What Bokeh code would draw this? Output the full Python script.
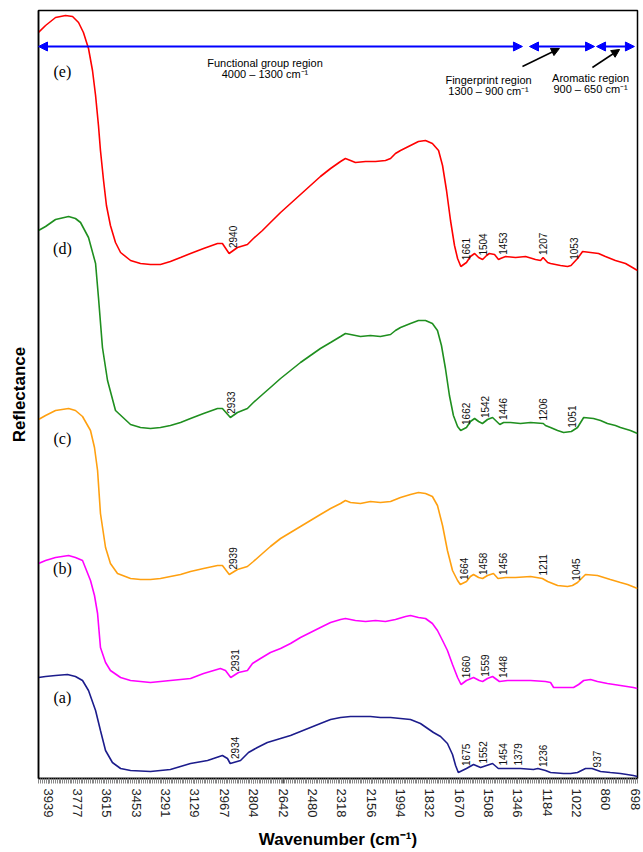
import numpy as np
from bokeh.plotting import figure
from bokeh.models import Range1d, FixedTicker, Arrow, NormalHead
from bokeh.core.properties import value
from bokeh.embed import file_html
from bokeh.resources import INLINE

# Wavenumber tick labels (cm-1)
tick_wavenumbers = [3939, 3777, 3615, 3453, 3291, 3129, 2967, 2804, 2642, 2480,
                    2318, 2156, 1994, 1832, 1670, 1508, 1346, 1184, 1022, 860, 698]

# Spectrum (e) - stacked reflectance (arbitrary units)
e_wn = [3992, 3953, 3898, 3843, 3804, 3771, 3744, 3716, 3694, 3677,
        3661, 3650, 3633, 3617, 3595, 3567, 3539, 3484, 3429, 3374,
        3319, 3264, 3208, 3153, 3081, 3004, 2977, 2940, 2894, 2839,
        2806, 2756, 2712, 2656, 2601, 2546, 2491, 2436, 2380, 2325,
        2298, 2270, 2243, 2187, 2132, 2077, 2049, 2022, 1994, 1939,
        1895, 1856, 1818, 1784, 1762, 1740, 1718, 1696, 1679, 1661,
        1630, 1608, 1585, 1563, 1541, 1519, 1504, 1475, 1453, 1442,
        1414, 1359, 1304, 1249, 1221, 1207, 1182, 1166, 1111, 1072,
        1053, 1017, 989, 945, 901, 863, 808, 752, 714, 686]
e_r = [746, 753, 761, 763, 762, 756, 746, 730, 708, 683,
       653, 628, 598, 573, 553, 536, 526, 518, 515, 514,
       514, 517, 521, 525, 530, 535, 535, 525, 531, 534,
       540, 548, 556, 566, 575, 584, 593, 602, 610, 617,
       620, 618, 616, 617, 617, 618, 620, 625, 628, 633,
       637, 638, 635, 628, 613, 588, 558, 533, 520, 512,
       516, 522, 525, 521, 519, 523, 525, 524, 519, 520,
       522, 521, 522, 519, 518, 521, 516, 515, 513, 512,
       513, 520, 527, 526, 525, 522, 518, 515, 511, 508]

# Spectrum (d)
d_wn = [3992, 3953, 3898, 3826, 3788, 3760, 3716, 3677, 3661, 3639,
        3611, 3567, 3484, 3429, 3374, 3319, 3264, 3208, 3153, 3081,
        3004, 2977, 2933, 2894, 2839, 2806, 2756, 2712, 2656, 2601,
        2546, 2491, 2436, 2380, 2325, 2298, 2270, 2215, 2160, 2105,
        2049, 2022, 1994, 1939, 1895, 1856, 1818, 1790, 1768, 1746,
        1724, 1702, 1679, 1662, 1630, 1608, 1585, 1563, 1542, 1514,
        1486, 1446, 1425, 1387, 1332, 1276, 1206, 1194, 1166, 1127,
        1094, 1051, 1017, 983, 929, 890, 852, 808, 780, 725, 686]
d_r = [548, 552, 559, 562, 560, 556, 541, 515, 481, 431,
       398, 368, 354, 351, 350, 351, 353, 356, 360, 365,
       370, 370, 361, 366, 370, 376, 384, 391, 400, 408,
       416, 423, 430, 436, 442, 445, 444, 442, 443, 442,
       444, 448, 451, 455, 458, 458, 455, 448, 433, 410,
       383, 363, 352, 348, 351, 357, 360, 357, 355, 359,
       361, 354, 356, 356, 355, 356, 355, 353, 351, 348,
       346, 347, 351, 361, 360, 358, 355, 353, 351, 348, 345]

# Spectrum (c)
c_wn = [3992, 3953, 3898, 3826, 3788, 3749, 3705, 3683, 3666, 3650,
        3622, 3595, 3556, 3484, 3429, 3374, 3319, 3264, 3208, 3153,
        3081, 3004, 2977, 2939, 2894, 2839, 2806, 2756, 2712, 2656,
        2601, 2546, 2491, 2436, 2380, 2325, 2298, 2270, 2215, 2160,
        2105, 2049, 1994, 1939, 1895, 1856, 1818, 1790, 1762, 1735,
        1707, 1679, 1664, 1630, 1608, 1591, 1563, 1541, 1514, 1481,
        1456, 1414, 1359, 1276, 1211, 1182, 1127, 1072, 1045, 1017,
        973, 907, 836, 780, 741, 686]
c_r = [359, 363, 368, 370, 368, 362, 348, 331, 308, 265,
       231, 215, 205, 200, 199, 199, 200, 202, 204, 207,
       210, 213, 213, 204, 209, 212, 217, 225, 232, 240,
       246, 252, 258, 264, 270, 275, 278, 276, 275, 277,
       276, 277, 281, 284, 286, 285, 282, 273, 253, 228,
       208, 198, 194, 197, 202, 204, 201, 200, 203, 205,
       200, 201, 201, 202, 200, 197, 193, 192, 193, 196,
       204, 203, 199, 196, 194, 190]

# Spectrum (b)
b_wn = [3992, 3953, 3898, 3826, 3788, 3749, 3705, 3683, 3666, 3650,
        3622, 3595, 3539, 3484, 3429, 3374, 3319, 3264, 3208, 3153,
        3081, 2988, 2960, 2931, 2888, 2839, 2811, 2767, 2712, 2656,
        2601, 2546, 2491, 2436, 2380, 2325, 2298, 2243, 2187, 2132,
        2077, 2022, 1966, 1939, 1895, 1856, 1818, 1790, 1762, 1735,
        1707, 1679, 1660, 1630, 1591, 1559, 1541, 1514, 1486, 1448,
        1403, 1276, 1194, 1166, 1149, 1111, 1039, 1011, 983, 945,
        907, 852, 780, 709, 686]
b_r = [215, 218, 221, 223, 221, 218, 198, 183, 165, 131,
       116, 108, 101, 98, 97, 96, 97, 98, 99, 100,
       105, 110, 108, 101, 106, 108, 115, 120, 126, 130,
       135, 141, 146, 151, 156, 159, 160, 158, 157, 158,
       157, 159, 162, 163, 161, 160, 155, 148, 138, 128,
       114, 101, 94, 98, 101, 98, 97, 100, 102, 97,
       98, 98, 97, 96, 91, 91, 91, 94, 98, 99,
       97, 95, 93, 91, 90]

# Spectrum (a)
a_wn = [3992, 3953, 3898, 3832, 3788, 3749, 3716, 3677, 3650, 3622,
        3584, 3539, 3484, 3374, 3264, 3153, 3059, 2977, 2949, 2934,
        2877, 2833, 2784, 2729, 2656, 2601, 2546, 2491, 2436, 2380,
        2325, 2270, 2215, 2160, 2105, 2049, 1994, 1939, 1884, 1812,
        1773, 1735, 1707, 1690, 1675, 1630, 1591, 1552, 1519, 1486,
        1454, 1414, 1379, 1332, 1260, 1236, 1194, 1166, 1094, 1055,
        1017, 973, 937, 890, 836, 780, 709, 686]
a_r = [101, 102, 103, 104, 102, 98, 88, 68, 48, 28,
       16, 10, 8, 7, 9, 15, 18, 23, 20, 15,
       18, 26, 31, 36, 40, 43, 47, 51, 55, 59,
       61, 62, 62, 62, 61, 61, 60, 59, 55, 46,
       42, 35, 24, 13, 6, 10, 14, 11, 13, 15,
       10, 10, 10, 10, 9, 10, 8, 6, 5, 5,
       6, 10, 10, 7, 6, 5, 3, 2]

# Peak assignments (cm-1) and where along each trace their tags sit
e_peaks = [2940, 1661, 1504, 1453, 1207, 1053]
e_tag_at = [2921, 1635, 1536, 1431, 1205, 1039]
d_peaks = [2933, 1662, 1542, 1446, 1206, 1051]
d_tag_at = [2927, 1635, 1525, 1431, 1210, 1045]
c_peaks = [2939, 1664, 1458, 1456, 1211, 1045]
c_tag_at = [2921, 1646, 1536, 1431, 1210, 1028]
b_peaks = [2931, 1660, 1559, 1448]
b_tag_at = [2905, 1635, 1525, 1431]
a_peaks = [2934, 1675, 1552, 1454, 1379, 1236, 937]
a_tag_at = [2905, 1635, 1536, 1431, 1348, 1205, 907]

# Spectral regions (cm-1)
functional_region = (4000, 1300)
fingerprint_region = (1300, 900)
aromatic_region = (900, 650)

X_LEFT, X_RIGHT = 3992, 686
Y_TOP = 768

p = figure(width=643, height=852,
           x_range=Range1d(X_LEFT, X_RIGHT), y_range=Range1d(0, Y_TOP),
           output_backend="svg", toolbar_location=None,
           min_border_left=38, min_border_right=6,
           min_border_top=10, min_border_bottom=74)

p.background_fill_color = "white"
p.border_fill_color = "white"
p.xgrid.visible = False
p.ygrid.visible = False
p.outline_line_color = "black"
p.outline_line_width = 1.5

SANS = "Liberation Sans"
SERIF = "Liberation Serif"

# x axis
step = 162.05 / 16
minor = list(np.arange(3939 + 5 * step, X_RIGHT, -step))
p.xaxis.ticker = FixedTicker(ticks=tick_wavenumbers, minor_ticks=minor)
p.xaxis.major_label_orientation = "vertical"
p.xaxis.major_label_text_font = SANS
p.xaxis.major_label_text_font_size = "13px"
p.xaxis.major_label_text_color = "#222222"
p.xaxis.major_label_standoff = 5
p.xaxis.axis_line_color = "black"
p.xaxis.axis_line_width = 1.5
p.xaxis.major_tick_in = 0
p.xaxis.major_tick_out = 5
p.xaxis.major_tick_line_color = "#555555"
p.xaxis.minor_tick_in = 0
p.xaxis.minor_tick_out = 5
p.xaxis.minor_tick_line_color = "#888888"
p.xaxis.axis_label = "Wavenumber (cm\u207b\u00b9)"
p.xaxis.axis_label_text_font = SANS
p.xaxis.axis_label_text_font_style = "bold"
p.xaxis.axis_label_text_font_size = "17px"
p.xaxis.axis_label_text_color = "black"
p.xaxis.axis_label_standoff = 10

# y axis: label only
p.yaxis.ticker = FixedTicker(ticks=[])
p.yaxis.major_tick_line_color = None
p.yaxis.minor_tick_line_color = None
p.yaxis.major_label_text_font_size = "0px"
p.yaxis.axis_line_color = "black"
p.yaxis.axis_line_width = 1.5
p.yaxis.axis_label = "Reflectance"
p.yaxis.axis_label_text_font = SANS
p.yaxis.axis_label_text_font_style = "bold"
p.yaxis.axis_label_text_font_size = "17px"
p.yaxis.axis_label_text_color = "black"
p.yaxis.axis_label_standoff = 10

spectra = [
    ("(e)", e_wn, e_r, e_peaks, e_tag_at, "#ff0000", 707),
    ("(d)", d_wn, d_r, d_peaks, d_tag_at, "#1f8f1f", 530),
    ("(c)", c_wn, c_r, c_peaks, c_tag_at, "#ffa010", 340),
    ("(b)", b_wn, b_r, b_peaks, b_tag_at, "#ff00ff", 210),
    ("(a)", a_wn, a_r, a_peaks, a_tag_at, "#1c1c8c", 81),
]

for name, wn, r, peaks, tag_at, color, name_y in spectra:
    p.line(wn, r, line_color=color, line_width=1.6)
    # peak tags just above the trace
    wn_inc = np.array(wn[::-1], dtype=float)
    r_inc = np.array(r[::-1], dtype=float)
    tag_y = np.interp(tag_at, wn_inc, r_inc) + 3
    p.text(x=tag_at, y=list(tag_y), text=[str(v) for v in peaks],
           angle=np.pi / 2, text_font=value(SANS), text_font_size="10px",
           text_color="#111111", text_align="left", text_baseline="middle")
    p.text(x=[3860], y=[name_y], text=[name], text_font=value(SERIF),
           text_font_size="16px", text_color="black",
           text_align="center", text_baseline="middle")

# Region arrows
ARROW_Y = 732
blue = "#0000ff"


def region_arrow(x0, x1):
    return Arrow(start=NormalHead(size=9, fill_color=blue, line_color=blue),
                 end=NormalHead(size=9, fill_color=blue, line_color=blue),
                 x_start=x0, y_start=ARROW_Y, x_end=x1, y_end=ARROW_Y,
                 line_color=blue, line_width=2)


p.add_layout(region_arrow(X_LEFT, functional_region[1] + 21))
p.add_layout(region_arrow(fingerprint_region[0] - 18, fingerprint_region[1] + 23))
p.add_layout(region_arrow(aromatic_region[0] + 12, X_RIGHT + 17))

# Pointer arrows from the region captions
for xs, ys, xe, ye in [(1321, 712, 1117, 730), (935, 711, 785, 729)]:
    p.add_layout(Arrow(end=NormalHead(size=8, fill_color="black", line_color="black"),
                       x_start=xs, y_start=ys, x_end=xe, y_end=ye,
                       line_color="black", line_width=1.5))

# Region captions
cap_x = [2742, 2742, 1508, 1508, 945, 945]
cap_y = [716, 705, 699, 688, 701, 690]
cap_t = ["Functional group region", "4000 \u2013 1300 cm\u207b\u00b9",
         "Fingerprint region", "1300 \u2013 900 cm\u207b\u00b9",
         "Aromatic region", "900 \u2013 650 cm\u207b\u00b9"]
p.text(x=cap_x, y=cap_y, text=cap_t, text_font=value(SANS),
       text_font_size="11px", text_color="black",
       text_align="center", text_baseline="middle")

open("out.html", "w").write(file_html(p, INLINE))
